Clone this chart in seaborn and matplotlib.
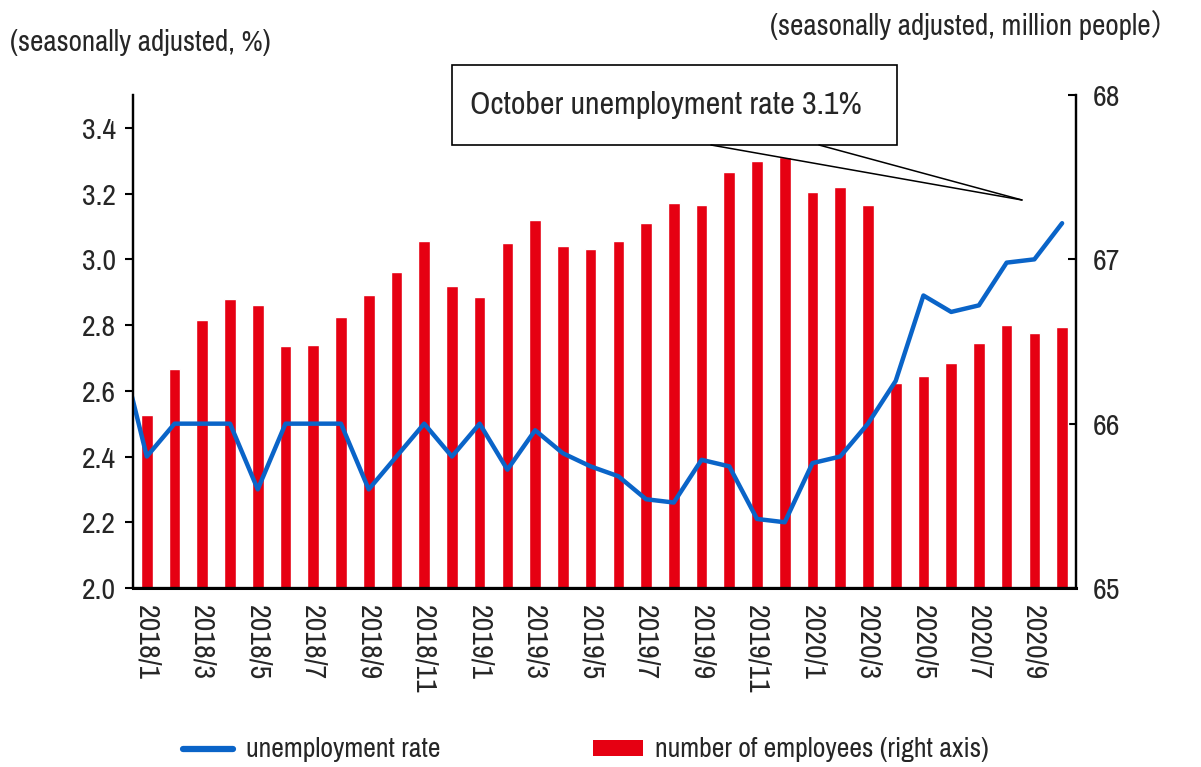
import matplotlib
matplotlib.use("Agg")
import matplotlib.pyplot as plt
from matplotlib.lines import Line2D
from matplotlib.patches import Rectangle, Patch
import seaborn as sns
import pandas as pd

# ---------------- data ----------------
months = [
    "2018/1", "2018/2", "2018/3", "2018/4", "2018/5", "2018/6", "2018/7", "2018/8",
    "2018/9", "2018/10", "2018/11", "2018/12",
    "2019/1", "2019/2", "2019/3", "2019/4", "2019/5", "2019/6", "2019/7", "2019/8",
    "2019/9", "2019/10", "2019/11", "2019/12",
    "2020/1", "2020/2", "2020/3", "2020/4", "2020/5", "2020/6", "2020/7", "2020/8",
    "2020/9", "2020/10",
]
# unemployment rate, % (left axis)
rate = [
    2.40, 2.50, 2.50, 2.50, 2.30, 2.50, 2.50, 2.50, 2.30, 2.40, 2.50, 2.40,
    2.50, 2.36, 2.48, 2.41, 2.37, 2.34, 2.27, 2.26, 2.39, 2.37, 2.21, 2.20,
    2.38, 2.40, 2.50, 2.63, 2.89, 2.84, 2.86, 2.99, 3.00, 3.11,
]
# previous month, only the clipped stub at the left edge is visible
rate_2017_12 = 2.74
# number of employees, million people (right axis)
employees = [
    66.05, 66.33, 66.63, 66.76, 66.72, 66.47, 66.48, 66.65, 66.78, 66.92, 67.11, 66.84,
    66.77, 67.10, 67.24, 67.08, 67.06, 67.11, 67.22, 67.34, 67.33, 67.53, 67.60, 67.62,
    67.41, 67.44, 67.33, 66.25, 66.29, 66.37, 66.49, 66.60, 66.55, 66.59,
]
left_ticks = [2.0, 2.2, 2.4, 2.6, 2.8, 3.0, 3.2, 3.4]
right_ticks = [65, 66, 67, 68]

RED = "#E60012"
BLUE = "#0A64C8"

sns.set_theme(style="white")
# narrow sans like the original's Arial Narrow; CJK family for the full-width bracket
plt.rcParams['font.family'] = ['Archivo Narrow', 'Liberation Sans', 'Noto Sans CJK JP', 'DejaVu Sans']

df = pd.DataFrame({"pos": list(range(len(months))), "month": months,
                   "rate": rate, "employees": employees})
line_df = pd.DataFrame({"pos": [-1] + list(range(len(months))),
                        "rate": [rate_2017_12] + rate})

fig = plt.figure(figsize=(12.01, 7.67), dpi=100)
ax = fig.add_axes([0.1107, 0.2334, 0.7852, 0.6427])
ax2 = ax.twinx()

# bars on right axis, line on left axis (drawn on top)
sns.barplot(data=df, x="pos", y="employees", native_scale=True, color=RED,
            saturation=1, width=0.42, ax=ax2)
sns.lineplot(data=line_df, x="pos", y="rate", color=BLUE, lw=3.2, ax=ax)
ax.set_zorder(ax2.get_zorder() + 1)
ax.patch.set_visible(False)

ax.set_xlim(-0.5, len(months) - 0.5)
ax.set_ylim(2.0, 3.5)
ax2.set_ylim(65, 68)

# x axis: ticks between every second month, labels under the odd months
ax.set_xticks([i - 0.5 for i in range(0, len(months) + 1, 2)])
ax.set_xticklabels([])
ax.set_xticks(list(range(0, len(months), 2)), minor=True)
ax.set_xticklabels(months[::2], minor=True, rotation=-90, fontsize=21.5)
ax.tick_params(axis="x", which="major", direction="out", length=6, width=1.5, color="black")
ax.tick_params(axis="x", which="minor", length=0, pad=12)
ax2.set_xticks([])

ax.set_yticks(left_ticks)
ax.set_yticklabels([f"{v:.1f}" for v in left_ticks])
ax.tick_params(axis="y", direction="out", length=6, width=1.5, color="black",
               labelsize=21.5, pad=6, left=True)
ax2.set_yticks(right_ticks)
ax2.tick_params(axis="y", direction="in", length=6, width=1.5, color="black",
                labelsize=21.5, pad=12, right=True)

ax.set_xlabel("")
ax.set_ylabel("")
ax2.set_xlabel("")
ax2.set_ylabel("")

for a in (ax, ax2):
    a.spines["top"].set_visible(False)
    for s in ("left", "right", "bottom"):
        a.spines[s].set_color("black")
        a.spines[s].set_linewidth(1.6)
ax.spines["bottom"].set_linewidth(2.2)

# axis unit labels
fig.text(10 / 1201, 1 - 43 / 767, "(seasonally adjusted, %)", fontsize=21, va="center")
fig.text(770 / 1201, 1 - 25 / 767, "(seasonally adjusted, million people）",
         fontsize=21, va="center", ha="left")

# callout box
fig.add_artist(Rectangle((452 / 1201, 1 - 145 / 767), (897 - 452) / 1201, 80 / 767,
                         transform=fig.transFigure, facecolor="white",
                         edgecolor="black", lw=1.2, zorder=5))
fig.text(470 / 1201, 1 - 105 / 767, "October unemployment rate 3.1%",
         fontsize=23, va="center", zorder=6)
for x0 in (711, 819):
    fig.add_artist(Line2D([x0 / 1201, 1022 / 1201], [1 - 145 / 767, 1 - 200 / 767],
                          color="black", lw=1.1, zorder=5))

# legend
handles = [Line2D([0], [0], color=BLUE, lw=4.5), Patch(facecolor=RED, edgecolor="none")]
fig.legend(handles, ["unemployment rate", "number of employees (right axis)"],
           loc="center", bbox_to_anchor=(0.488, 1 - 750 / 767), ncol=2, frameon=False,
           fontsize=20, handlelength=1.8, handleheight=0.5, handletextpad=0.45,
           columnspacing=5.5)

fig.savefig("out.png", dpi=100)
